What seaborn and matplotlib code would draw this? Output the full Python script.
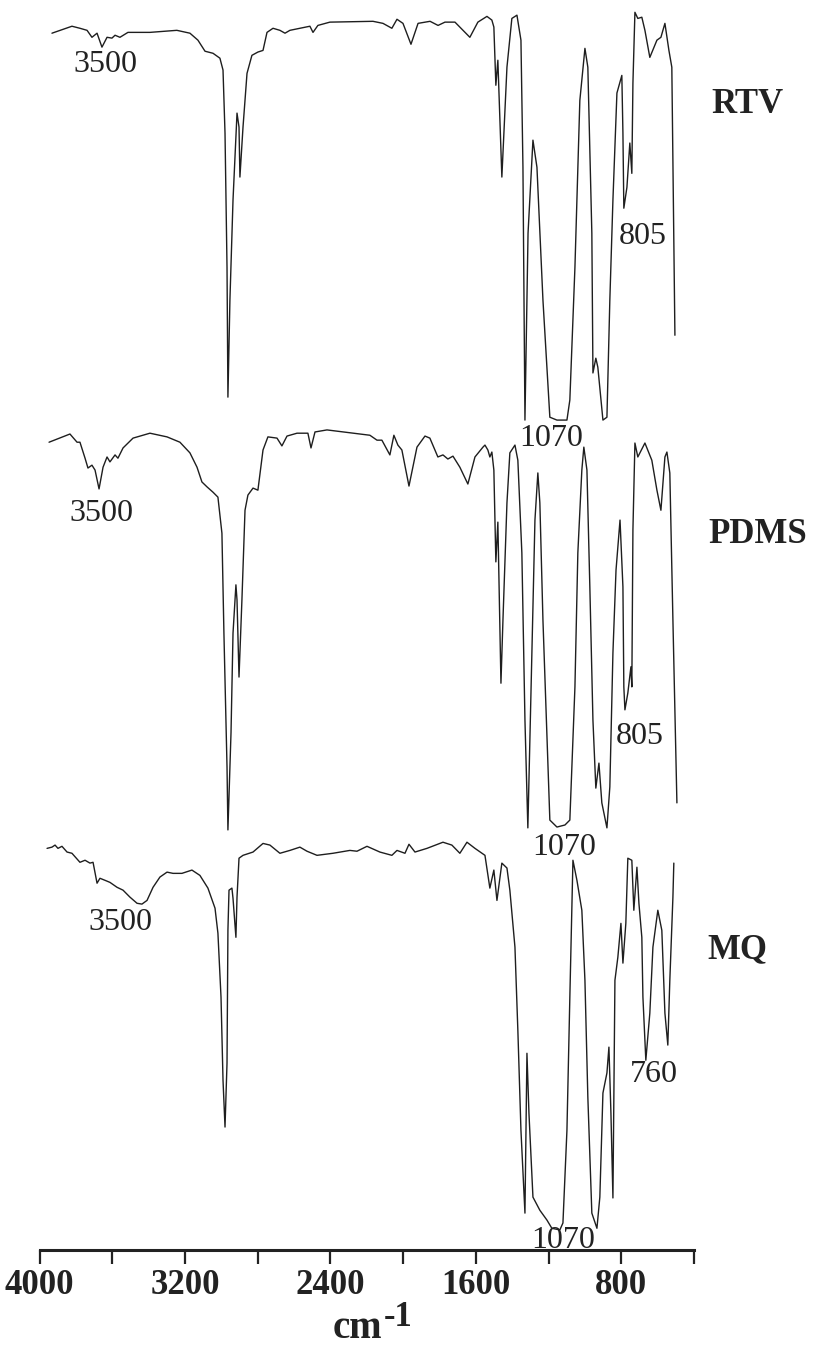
import numpy as np
import pandas as pd
import seaborn as sns
import matplotlib.pyplot as plt

# IR spectra: (wavenumber cm-1, transmittance %)
rtv = [(3932, 94.4), (3822, 96.1), (3778, 95.6), (3739, 95.1), (3712, 93.4), (3684, 94.4),
       (3657, 91.0), (3629, 93.4), (3602, 93.2), (3585, 93.9), (3558, 93.4), (3514, 94.6),
       (3393, 94.6), (3245, 95.1), (3173, 94.4), (3129, 92.7), (3090, 90.0), (3046, 89.5),
       (3008, 88.3), (2991, 85.4), (2980, 70.0), (2969, 37.3), (2964, 5.6), (2953, 29.3),
       (2936, 53.7), (2914, 74.9), (2903, 71.5), (2898, 59.3), (2881, 71.5), (2859, 84.6),
       (2832, 89.0), (2799, 89.8), (2771, 90.2), (2749, 94.6), (2716, 95.6), (2678, 95.1),
       (2650, 94.4), (2623, 95.1), (2513, 96.1), (2496, 94.6), (2469, 96.3), (2403, 97.1),
       (2166, 97.3), (2111, 96.8), (2062, 95.6), (2034, 97.8), (2001, 96.8), (1957, 91.7),
       (1918, 96.8), (1852, 97.3), (1808, 96.3), (1770, 97.1), (1715, 97.1), (1633, 93.4),
       (1589, 97.1), (1539, 98.5), (1512, 97.6), (1501, 95.9), (1490, 81.7), (1479, 87.8),
       (1457, 59.3), (1429, 86.1), (1402, 98.0), (1374, 98.8), (1352, 92.7), (1341, 61.7),
       (1330, 0.0), (1313, 45.6), (1286, 68.3), (1264, 61.7), (1231, 29.3), (1193, 0.7),
       (1154, 0.0), (1099, 0.0), (1083, 4.9), (1055, 37.3), (1028, 78.0), (1000, 90.7),
       (984, 86.1), (962, 45.6), (956, 11.5), (940, 15.1), (929, 12.9), (901, 0.0),
       (879, 0.7), (863, 29.3), (846, 53.7), (824, 79.8), (797, 84.1), (791, 70.0),
       (786, 51.7), (769, 56.8), (753, 67.6), (742, 60.2), (736, 82.2), (725, 99.5),
       (709, 98.0), (687, 98.3), (670, 95.1), (643, 88.5), (604, 92.7), (582, 93.4),
       (560, 96.8), (538, 90.2), (522, 86.1), (505, 20.7)]

pdms = [(3948, 94.6), (3833, 96.6), (3794, 94.6), (3778, 94.6), (3750, 90.7), (3734, 88.3),
        (3712, 89.0), (3695, 87.8), (3673, 83.2), (3651, 88.5), (3629, 91.0), (3613, 89.8),
        (3585, 91.5), (3569, 90.7), (3541, 93.2), (3486, 95.6), (3393, 96.8), (3299, 95.9),
        (3228, 94.6), (3173, 92.0), (3134, 88.5), (3107, 84.9), (3079, 83.7), (3046, 82.4),
        (3019, 81.2), (2997, 72.4), (2986, 48.0), (2969, 15.4), (2964, 0.0), (2947, 23.7),
        (2936, 48.0), (2920, 59.8), (2914, 56.1), (2903, 37.3), (2887, 56.1), (2870, 78.0),
        (2854, 81.7), (2826, 83.4), (2799, 82.9), (2771, 92.7), (2744, 95.9), (2694, 95.6),
        (2667, 93.7), (2639, 96.1), (2584, 96.8), (2524, 96.8), (2507, 93.2), (2485, 97.1),
        (2419, 97.6), (2276, 96.8), (2238, 96.6), (2183, 96.3), (2144, 95.1), (2117, 95.1),
        (2073, 91.5), (2051, 96.3), (2029, 93.9), (2007, 92.7), (1968, 83.9), (1924, 93.4),
        (1880, 96.1), (1853, 95.6), (1809, 91.0), (1781, 91.5), (1754, 90.5), (1726, 91.2),
        (1688, 88.5), (1644, 84.4), (1605, 91.0), (1561, 93.4), (1550, 93.9), (1534, 92.7),
        (1523, 91.0), (1512, 92.2), (1501, 87.8), (1490, 65.4), (1479, 75.1), (1462, 35.8),
        (1451, 51.2), (1429, 79.8), (1413, 92.0), (1385, 93.9), (1369, 90.2), (1347, 67.6),
        (1330, 26.8), (1314, 0.5), (1292, 43.2), (1275, 75.6), (1259, 87.1), (1248, 79.8),
        (1231, 51.2), (1209, 22.7), (1193, 2.4), (1154, 0.7), (1110, 1.2), (1083, 2.4),
        (1055, 34.9), (1039, 67.6), (1017, 87.8), (1006, 93.4), (989, 87.8), (973, 59.3),
        (956, 26.8), (940, 10.2), (923, 16.3), (907, 6.6), (879, 0.5), (863, 10.5),
        (846, 43.2), (829, 63.4), (807, 75.6), (791, 59.3), (786, 34.9), (780, 29.3),
        (764, 33.4), (747, 39.8), (742, 34.9), (736, 73.2), (725, 94.4), (709, 91.0),
        (670, 94.4), (632, 90.2), (604, 82.9), (582, 78.0), (560, 91.0), (549, 92.2),
        (533, 87.1), (516, 51.2), (494, 6.6)]

mq = [(3959, 96.8), (3932, 97.1), (3915, 97.6), (3899, 96.8), (3877, 97.3), (3849, 95.9),
      (3822, 95.6), (3778, 93.4), (3750, 93.9), (3723, 93.2), (3706, 93.4), (3684, 88.3),
      (3668, 89.5), (3640, 89.0), (3613, 88.5), (3574, 87.3), (3541, 86.6), (3503, 84.9),
      (3464, 83.4), (3437, 83.2), (3409, 84.1), (3376, 87.3), (3338, 89.8), (3299, 91.0),
      (3266, 90.7), (3217, 90.7), (3162, 91.5), (3118, 90.2), (3074, 87.1), (3035, 82.2),
      (3019, 76.1), (3002, 60.5), (2991, 40.2), (2980, 28.8), (2969, 44.4), (2964, 76.8),
      (2958, 86.6), (2942, 87.1), (2936, 84.6), (2920, 75.1), (2914, 84.9), (2903, 94.4),
      (2881, 95.1), (2826, 95.9), (2771, 98.0), (2733, 97.6), (2678, 95.6), (2623, 96.3),
      (2568, 97.1), (2529, 96.1), (2474, 95.1), (2386, 95.6), (2293, 96.3), (2254, 96.1),
      (2199, 97.3), (2128, 95.9), (2062, 95.1), (2034, 96.3), (1990, 95.6), (1968, 97.8),
      (1935, 95.9), (1869, 96.8), (1781, 98.3), (1732, 97.6), (1688, 95.6), (1649, 98.3),
      (1605, 96.8), (1550, 95.1), (1523, 87.1), (1501, 91.5), (1484, 84.1), (1457, 93.2),
      (1429, 92.0), (1413, 86.6), (1385, 72.7), (1369, 52.4), (1352, 28.0), (1330, 7.8),
      (1319, 46.8), (1308, 32.2), (1286, 11.7), (1248, 8.5), (1209, 6.1), (1182, 4.1),
      (1138, 3.7), (1121, 5.4), (1099, 28.0), (1083, 60.5), (1066, 93.9), (1044, 89.0),
      (1017, 81.7), (1000, 64.6), (984, 36.1), (962, 7.8), (934, 4.1), (918, 11.7),
      (901, 37.1), (879, 42.0), (868, 48.3), (857, 32.2), (846, 11.5), (835, 64.6),
      (819, 70.2), (802, 78.5), (791, 68.8), (775, 78.5), (764, 94.4), (742, 93.9),
      (731, 81.7), (714, 92.2), (703, 83.4), (687, 75.1), (681, 60.5), (665, 45.1),
      (643, 56.6), (626, 72.7), (599, 81.7), (577, 76.8), (560, 56.6), (544, 48.8),
      (533, 64.6), (516, 84.9), (511, 93.2)]

samples = ["RTV", "PDMS", "MQ"]
offsets = [202.5, 102.5, 1.2]

# peak labels
peak_text = ["3500", "805", "1070", "3500", "805", "1070", "3500", "760", "1070"]
peak_wn = [3640, 682, 1187, 3662, 698, 1116, 3558, 620, 1121]
peak_y = [289.2, 247.2, 197.9, 179.6, 125.4, 98.1, 79.8, 42.9, 2.4]

name_wn = [104, 49, 164]
name_y = [279.6, 174.7, 73.2]

tick_pos = [4000, 3600, 3200, 2800, 2400, 2000, 1600, 1200, 800, 400]
tick_lab = ["4000", "", "3200", "", "2400", "", "1600", "", "800", ""]

frames = []
for name, spec, off in zip(samples, [rtv, pdms, mq], offsets):
    d = pd.DataFrame(spec, columns=["wavenumber", "T"])
    d["sample"] = name
    d["y"] = d["T"] + off
    frames.append(d)
df = pd.concat(frames, ignore_index=True)

sns.set_theme(style="white")
plt.rcParams["font.family"] = ["Liberation Serif", "DejaVu Serif"]

ink = "#222222"
fig = plt.figure(figsize=(8.15, 13.45), dpi=100)
ax = fig.add_axes([39.6 / 815, 95 / 1345, (694 - 39.6) / 815, 1250 / 1345])

sns.lineplot(data=df, x="wavenumber", y="y", hue="sample", units="sample", estimator=None,
             palette=["#1e1e1e"] * 3, linewidth=1.0, legend=False, ax=ax)

ax.set_xlim(4000, 400)
ax.set_ylim(0, 305)
for side in ["top", "left", "right"]:
    ax.spines[side].set_visible(False)
ax.spines["bottom"].set_linewidth(2.2)
ax.spines["bottom"].set_color(ink)
ax.set_yticks([])
ax.set_xticks(tick_pos)
ax.set_xticklabels(tick_lab)
ax.tick_params(axis="x", bottom=True, direction="out", length=10, width=1.6, color=ink,
               pad=4, labelsize=25, labelcolor=ink)
for lab in ax.get_xticklabels():
    lab.set_fontweight("bold")
ax.set_xlabel("")
ax.set_ylabel("")

for txt, wn, yy in zip(peak_text, peak_wn, peak_y):
    ax.text(wn, yy, txt, ha="center", va="center", fontsize=23, color=ink)

for name, wn, yy in zip(samples, name_wn, name_y):
    ax.text(wn, yy, name, ha="center", va="center", fontsize=25, fontweight="bold",
            color=ink, clip_on=False)

# axis unit: "cm" with raised "-1"
fig.text(357 / 815, 1 - 1338 / 1345, "cm", ha="center", va="baseline",
         fontsize=28, fontweight="bold", color=ink)
fig.text(398 / 815, 1 - 1326 / 1345, "-1", ha="center", va="baseline",
         fontsize=25, fontweight="bold", color=ink)

fig.savefig("out.png", dpi=100, facecolor="white")
